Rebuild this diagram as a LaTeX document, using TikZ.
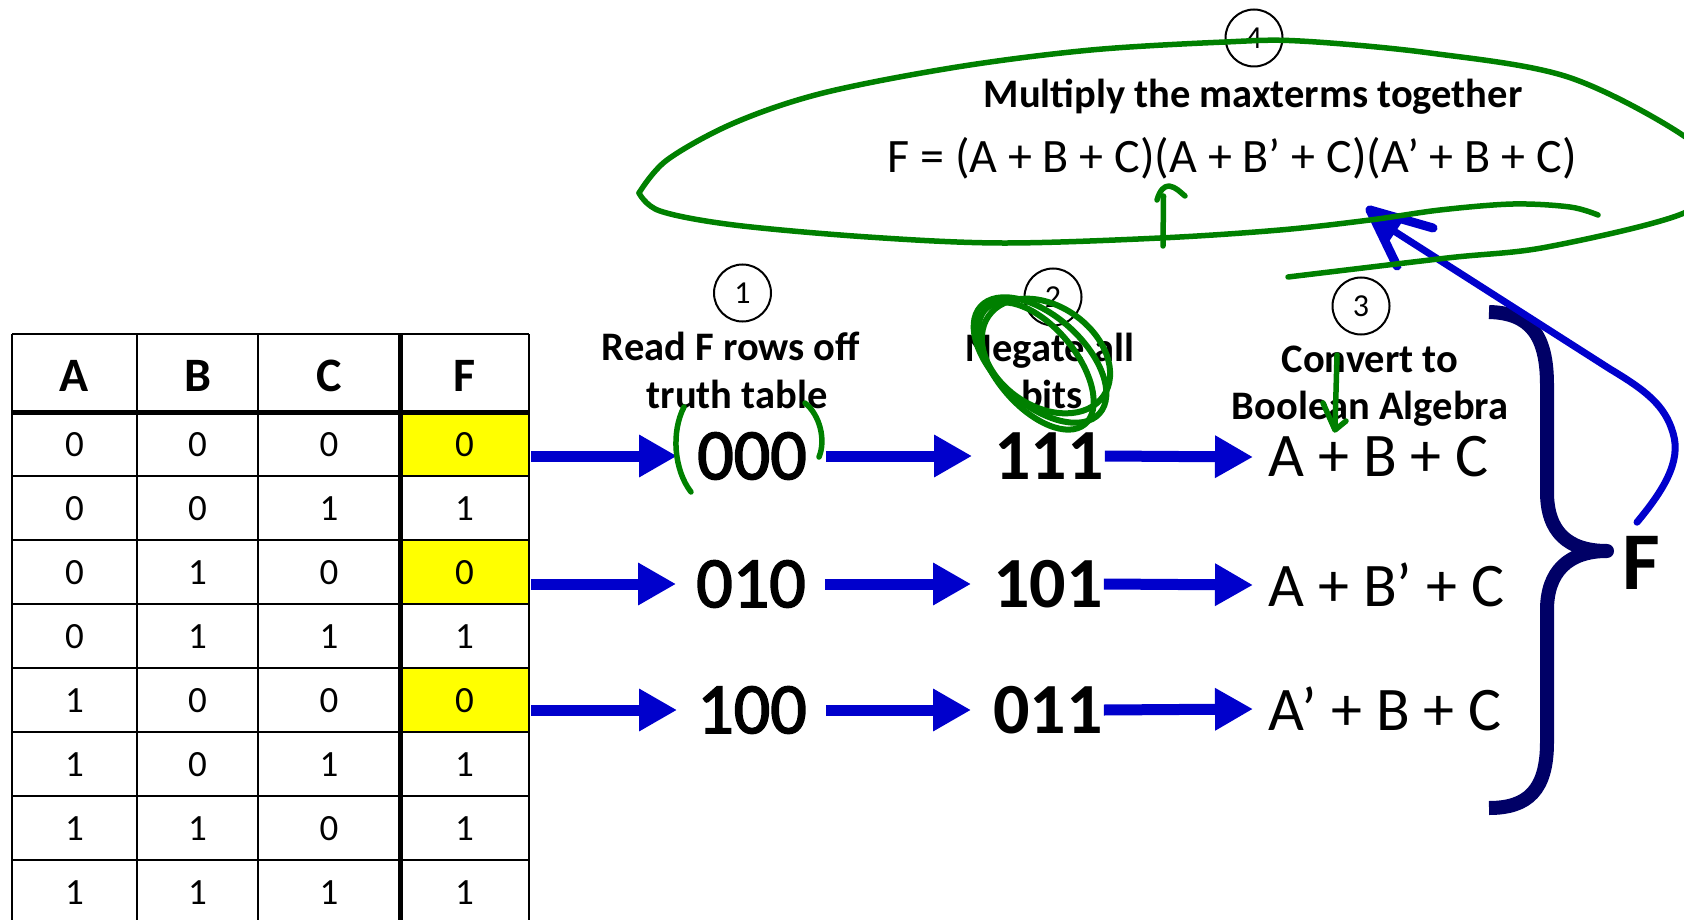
\documentclass[tikz,border=0pt]{standalone}
\usepackage{fontspec}
\setmainfont{Carlito}
\newfontfamily\medfont[FakeBold=2.2]{Carlito}
\usetikzlibrary{arrows.meta}
\definecolor{arrowblue}{RGB}{0,0,204}
\definecolor{bracenavy}{RGB}{0,0,102}
\definecolor{inkgreen}{RGB}{0,128,0}
\definecolor{cellyellow}{RGB}{255,255,0}
\newcommand\myfs[1]{\fontsize{#1}{#1}\selectfont}
\begin{document}
\begin{tikzpicture}[x=1pt,y=-1pt,
  hdr/.style={font=\myfs{48}\bfseries, inner sep=0pt, anchor=base},
  tdig/.style={font=\myfs{37}, inner sep=0pt, anchor=base},
  bignum/.style={font=\myfs{72}\bfseries, inner sep=0pt},
  mednum/.style={font=\medfont\myfs{72}, inner sep=0pt},
  expr/.style={font=\myfs{62}, inner sep=0pt, anchor=west},
  lbl/.style={font=\myfs{40.5}\bfseries, inner sep=0pt, anchor=base},
  numcirc/.style={circle, draw, line width=2pt, minimum size=57pt, inner sep=0pt, font=\myfs{32}},
  bigarrow/.style={arrowblue, line width=11pt, -{Triangle[length=38pt,width=40pt]}},
  ink/.style={inkgreen, line width=5.5pt, line cap=round, line join=round},
  gridthin/.style={line width=2.5pt},
  gridthick/.style={line width=5pt},
  bracestyle/.style={bracenavy, line width=14pt, line join=round},
  curvearrow/.style={arrowblue, line width=7pt, line cap=round}
]
\useasboundingbox (0,0) rectangle (1684,920);
\clip (0,0) rectangle (1684,920);

% ---------- truth table ----------
\fill[cellyellow] (400,412) rectangle (529,476);
\fill[cellyellow] (400,540) rectangle (529,604);
\fill[cellyellow] (400,668) rectangle (529,732);
\foreach \yy in {334,476,540,604,668,732,796,860}
  \draw[gridthin] (12,\yy) -- (529,\yy);
\foreach \xx in {12,137,258,529}
  \draw[gridthin] (\xx,334) -- (\xx,925);
\draw[gridthick] (12,412) -- (529,412);
\draw[gridthick] (400,334) -- (400,925);

\node[hdr] (hA) at (74.5,391) {A};
\node[hdr] (hB) at (197.5,391) {B};
\node[hdr] (hC) at (329,391) {C};
\node[hdr] (hF) at (464.5,391) {F};
\foreach \va/\vb/\vc/\vf [count=\i] in {0/0/0/0,0/0/1/1,0/1/0/0,0/1/1/1,1/0/0/0,1/0/1/1,1/1/0/1,1/1/1/1} {
  \pgfmathsetmacro\yy{456+64*(\i-1)}
  \node[tdig] (ta\i) at (74.5,\yy) {\va};
  \node[tdig] (tb\i) at (197.5,\yy) {\vb};
  \node[tdig] (tc\i) at (329,\yy) {\vc};
  \node[tdig] (tf\i) at (464.5,\yy) {\vf};
}
\coordinate (out1) at (531,456);
\coordinate (out2) at (531,584);
\coordinate (out3) at (531,710);

% ---------- step labels ----------
\node[numcirc] (c1) at (742.5,293) {1};
\node[lbl] (s1a) at (731,360) {Read F rows off};
\node[lbl] (s1b) at (737,408) {truth table};
\node[numcirc] (c2) at (1053,297) {2};
\node[lbl] (s2a) at (1050,361) {Negate all};
\node[lbl] (s2b) at (1052,408) {bits};
\node[numcirc] (c3) at (1361,306) {3};
\node[lbl] (s3a) at (1370,372) {Convert to};
\node[lbl] (s3b) at (1370,419) {Boolean Algebra};
\node[numcirc] (c4) at (1254,38) {4};
\node[lbl] (s4) at (1253,108) {Multiply the maxterms together};
\node[font=\myfs{48}, inner sep=0pt, anchor=base] (fx) at (1232,173) {F = (A + B + C)(A + B’ + C)(A’ + B + C)};

% ---------- rows ----------
\node[mednum] (n1a) at (752,456) {000};
\node[mednum] (n2a) at (751,584) {010};
\node[mednum] (n3a) at (752,710) {100};
\node[bignum] (n1b) at (1049,456) {111};
\node[bignum] (n2b) at (1048,584) {101};
\node[bignum] (n3b) at (1048,710) {011};
\node[expr] (e1) at (1268,457) {A + B + C};
\node[expr] (e2) at (1268,585) {A + B’ + C};
\node[expr] (e3) at (1268,709) {A’ + B + C};

\foreach \r in {1,2,3} {
  \draw[bigarrow] (out\r) -- ([xshift=-20pt]n\r a.west);
  \draw[bigarrow] ([xshift=19pt]n\r a.east) -- ([xshift=-22pt]n\r b.west);
  \draw[bigarrow] ([xshift=1pt]n\r b.east) -- ([xshift=-15pt]e\r.west);
}

% ---------- brace and F ----------
\draw[bracestyle] (1489,312) .. controls (1530,313) and (1547,335) .. (1547,385)
  -- (1547,492) .. controls (1547,532) and (1568,551) .. (1607,551)
  .. controls (1568,551) and (1547,572) .. (1547,610)
  -- (1547,742) .. controls (1547,790) and (1528,808) .. (1489,808);
\node[font=\myfs{82}\bfseries, inner sep=0pt] (Fbig) at (1641,563) {F};

% ---------- blue curved arrow ----------
\coordinate (tip4) at (1370,210);
\draw[curvearrow] ([shift={(-4,-14)}]Fbig.north) .. controls (1662,492) and (1682,462) .. (1673,433)
  .. controls (1665,405) and (1645,390) .. (1610,369) -- (1383,224);
\fill[arrowblue] (tip4) -- (1402,222) -- (1386,246) -- cycle;
\draw[arrowblue, line width=9pt, line cap=round] (tip4) -- (1433,228);
\draw[arrowblue, line width=9pt, line cap=round] (tip4) -- (1397,266);

% ---------- green ink ----------
\draw[ink] plot[smooth, tension=0.55] coordinates {(1598,215) (1570,207) (1513,204) (1440,210) (1370,220) (1280,230) (1160,238) (1002,243) (868,237) (734,225) (660,211) (639,193)};
\draw[ink] plot[smooth, tension=0.55] coordinates {(639,193) (667,160) (734,123) (823,93) (957,67) (1091,50) (1225,42) (1300,41) (1430,53) (1568,77) (1684,136) (1712,175) (1684,213) (1547,247) (1447,258) (1288,277)};
% up arrow
\draw[ink] (1163,246) -- (1163.5,196);
\draw[ink] (1157,200) .. controls (1160,190) and (1164,186) .. (1169,186) .. controls (1176,187) and (1180,192) .. (1185,196);
% down check
\draw[ink] (1337,355) -- (1335,428);
\draw[ink] (1323,403) -- (1335,430) -- (1346,421);
% parens around 000
\draw[ink] (684,407) .. controls (671,432) and (674,470) .. (691,492);
\draw[ink] (805,403) .. controls (820,415) and (826,440) .. (819,457);
% scribble around step 2
\draw[ink, line width=6pt] (1040,360) ellipse [x radius=80, y radius=44, rotate=-42];
\draw[ink, line width=6pt] (1046,356) ellipse [x radius=70, y radius=50, rotate=-35];
\draw[ink, line width=6pt] (1036,366) ellipse [x radius=76, y radius=40, rotate=-50];
\end{tikzpicture}
\end{document}
